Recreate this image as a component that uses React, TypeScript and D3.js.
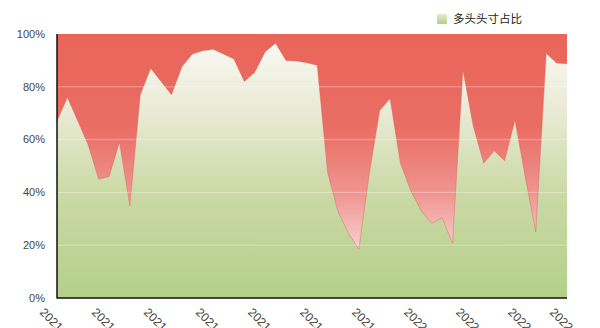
import React from 'react';
import * as d3 from 'd3';

const dates: string[] = [
  '2021-05-07', '2021-05-14', '2021-05-21', '2021-05-28', '2021-06-04',
  '2021-06-11', '2021-06-18', '2021-06-25', '2021-07-02', '2021-07-09',
  '2021-07-16', '2021-07-23', '2021-07-30', '2021-08-06', '2021-08-13',
  '2021-08-20', '2021-08-27', '2021-09-03', '2021-09-10', '2021-09-17',
  '2021-09-24', '2021-10-01', '2021-10-08', '2021-10-15', '2021-10-22',
  '2021-10-29', '2021-11-05', '2021-11-12', '2021-11-19', '2021-11-26',
  '2021-12-03', '2021-12-10', '2021-12-17', '2021-12-24', '2021-12-31',
  '2022-01-07', '2022-01-14', '2022-01-21', '2022-01-28', '2022-02-04',
  '2022-02-11', '2022-02-18', '2022-02-25', '2022-03-04', '2022-03-11',
  '2022-03-18', '2022-03-25', '2022-04-01', '2022-04-08', '2022-04-15',
];

const longShare: number[] = [
  67, 76, 67, 58, 45, 46, 59, 35, 77, 87,
  82, 77, 87.6, 92.4, 93.7, 94.2, 92.4, 90.5, 82, 85.5,
  93.3, 96.5, 90, 89.8, 89.1, 88.2, 47.5, 32.7, 24.6, 18.5,
  47, 71, 75.6, 51, 40.5, 33, 28.3, 30.3, 20.8, 86.4,
  65, 51, 55.8, 52, 67.4, 45.6, 25, 92.7, 89, 88.7,
];

const yTicks: number[] = [0, 20, 40, 60, 80, 100];
const gridTicks: number[] = [20, 40, 60, 80];
const labelIdx: number[] = [0, 5, 10, 15, 20, 25, 30, 35, 40, 45, 49];
const seriesName = '多头头寸占比';

export default function App() {
  const W = 600, H = 328;
  const left = 57, right = 567, top = 34, bottom = 298;
  const x = d3.scalePoint<string>().domain(dates).range([left, right]);
  const y = d3.scaleLinear().domain([0, 100]).range([bottom, top]);
  const data = dates.map((d, i) => ({ d, v: longShare[i] }));
  const area = d3.area<{ d: string; v: number }>()
    .x(p => x(p.d) as number)
    .y0(y(0))
    .y1(p => y(p.v));
  const line = d3.line<{ d: string; v: number }>()
    .x(p => x(p.d) as number)
    .y(p => y(p.v));
  const font = '"Liberation Sans", Arial, sans-serif';
  return (
    <svg width={W} height={H} style={{ position: 'absolute', left: 0, top: 0, background: '#fff' }}>
      <defs>
        <linearGradient id="redG" x1="0" y1="0" x2="0" y2="1">
          <stop offset="0" stopColor="#E9655A" />
          <stop offset="0.35" stopColor="#EA6D64" />
          <stop offset="0.6" stopColor="#EF948F" />
          <stop offset="0.8" stopColor="#F7CCCD" />
          <stop offset="1" stopColor="#FCEBEC" />
        </linearGradient>
        <linearGradient id="greenG" gradientUnits="userSpaceOnUse" x1="0" y1={y(100)} x2="0" y2={y(0)}>
          <stop offset="0" stopColor="#FBF9F6" />
          <stop offset="0.3" stopColor="#E8EAD4" />
          <stop offset="0.6" stopColor="#CBD9A6" />
          <stop offset="1" stopColor="#B3D08A" />
        </linearGradient>
        <linearGradient id="legG" x1="0" y1="0" x2="0" y2="1">
          <stop offset="0" stopColor="#E4EBCF" />
          <stop offset="1" stopColor="#B3D08A" />
        </linearGradient>
      </defs>
      <rect x={left} y={y(100)} width={right - left} height={y(0) - y(100)} fill="url(#redG)" />
      <path d={area(data) || ''} fill="url(#greenG)" />
      <path d={line(data) || ''} fill="none" stroke="#D65A50" strokeOpacity={0.5} strokeWidth={0.8} />
      {gridTicks.map(t => (
        <line key={t} x1={left} x2={right} y1={y(t)} y2={y(t)} stroke="#fff" strokeOpacity={0.35} strokeWidth={1} />
      ))}
      <line x1={left} x2={left} y1={y(100)} y2={y(0) + 0.5} stroke="#111" strokeWidth={1.5} />
      <line x1={left} x2={right} y1={y(0)} y2={y(0)} stroke="#111" strokeWidth={1.5} />
      {yTicks.map(t => (
        <text key={t} x={45} y={y(t)} dy="0.35em" textAnchor="end" fontSize={11} fontFamily={font} fill="#444">
          {t}%
        </text>
      ))}
      {labelIdx.map(i => (
        <text key={i} transform={`translate(${(x(dates[i]) as number) - 18},${313}) rotate(45)`}
          fontSize={12} fontFamily={font} fill="#444">
          {dates[i]}
        </text>
      ))}
      <rect x={437} y={14} width={10} height={10} fill="url(#legG)" />
      <text x={453} y={19} dy="0.35em" fontSize={11.5} fontFamily='"Noto Sans CJK SC", sans-serif' fill="#222">
        {seriesName}
      </text>
    </svg>
  );
}
